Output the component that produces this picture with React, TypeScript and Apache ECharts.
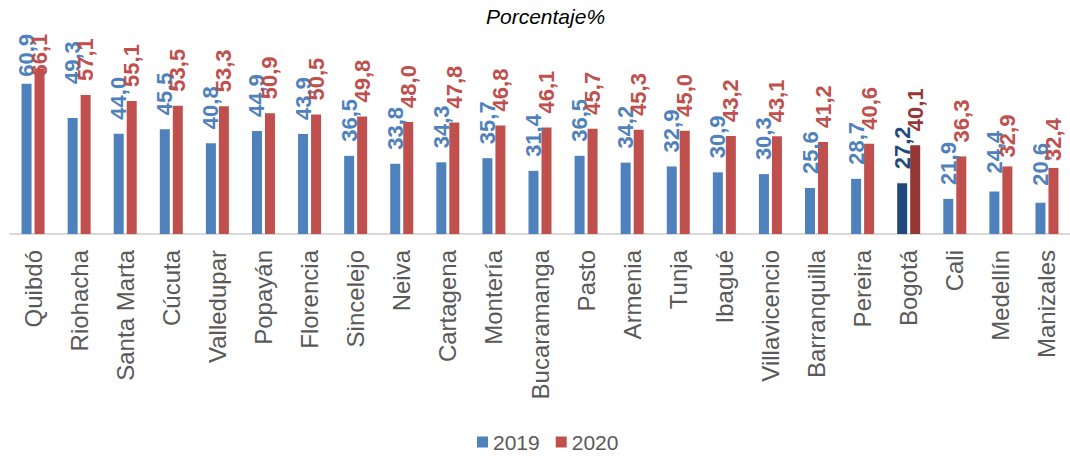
import React, { useEffect, useRef } from "react";
import * as echarts from "echarts";

const categories = [
  "Quibdó", "Riohacha", "Santa Marta", "Cúcuta", "Valledupar", "Popayán", "Florencia",
  "Sincelejo", "Neiva", "Cartagena", "Montería", "Bucaramanga", "Pasto", "Armenia",
  "Tunja", "Ibagué", "Villavicencio", "Barranquilla", "Pereira", "Bogotá", "Cali",
  "Medellín", "Manizales",
];
const values2019 = [60.9, 49.3, 44.0, 45.5, 40.8, 44.9, 43.9, 36.5, 33.8, 34.3, 35.7, 31.4, 36.5, 34.2, 32.9, 30.9, 30.3, 25.6, 28.7, 27.2, 21.9, 24.4, 20.6];
const values2020 = [66.1, 57.1, 55.1, 53.5, 53.3, 50.9, 50.5, 49.8, 48.0, 47.8, 46.8, 46.1, 45.7, 45.3, 45.0, 43.2, 43.1, 41.2, 40.6, 40.1, 36.3, 32.9, 32.4];
const seriesNames = ["2019", "2020"];
const highlightCity = "Bogotá";

const FONT = "'Liberation Sans', Arial, sans-serif";
const BLUE = "#4f81bd";
const RED = "#c0504d";
const DARK_BLUE = "#1f497d";
const DARK_RED = "#953735";

const labelDist2019: Record<string, number> = { "Quibdó": 7, "Riohacha": 34, "Medellín": 18, "Manizales": 17 };
const labelDist2020: Record<string, number> = { "Quibdó": -8, "Medellín": 9, "Manizales": 7 };

function buildData(values: number[], dark: string, dist: Record<string, number>) {
  return values.map((v, i) => {
    const c = categories[i];
    const isHL = c === highlightCity;
    const item: any = { value: v };
    const label: any = {};
    if (isHL) {
      item.itemStyle = { color: dark };
      label.color = dark;
    }
    if (dist[c] !== undefined) label.distance = dist[c];
    if (Object.keys(label).length) item.label = label;
    return item;
  });
}

export default function App() {
  const ref = useRef<HTMLDivElement>(null);
  useEffect(() => {
    if (!ref.current) return;
    const chart = echarts.init(ref.current, undefined, { renderer: "svg" });
    const labelBase = {
      show: true,
      position: "top",
      rotate: 90,
      align: "left",
      verticalAlign: "middle",
      distance: 14,
      fontFamily: FONT,
      fontSize: 22,
      fontWeight: "bold",
      formatter: (p: any) => Number(p.value).toFixed(1).replace(".", ","),
    };
    chart.setOption({
      animation: false,
      backgroundColor: "#ffffff",
      title: {
        text: "Porcentaje%",
        left: 481,
        top: 1,
        textStyle: { fontFamily: FONT, fontSize: 21, fontStyle: "italic", fontWeight: "normal", color: "#000000" },
      },
      legend: {
        data: seriesNames,
        left: 472,
        top: 425,
        itemWidth: 11,
        itemHeight: 11,
        itemGap: 16,
        icon: "rect",
        textStyle: { fontFamily: FONT, fontSize: 21, color: "#595959", lineHeight: 24 },
      },
      grid: { left: 10, width: 1068, top: 57, bottom: 222, containLabel: false },
      xAxis: {
        type: "category",
        data: categories,
        axisLine: { show: true, lineStyle: { color: "#d9d9d9", width: 2 } },
        axisTick: { show: false },
        axisLabel: {
          interval: 0,
          rotate: 90,
          margin: 16,
          fontFamily: FONT,
          fontSize: 24,
          color: "#595959",
        },
      },
      yAxis: {
        type: "value",
        min: 10,
        max: 70,
        startValue: 10,
        show: false,
        splitLine: { show: false },
      },
      series: [
        {
          name: seriesNames[0],
          type: "bar",
          barWidth: 10,
          barGap: "30%",
          clip: true,
          itemStyle: { color: BLUE },
          label: { ...labelBase, color: BLUE },
          data: buildData(values2019, DARK_BLUE, labelDist2019),
        },
        {
          name: seriesNames[1],
          type: "bar",
          barWidth: 10,
          barGap: "30%",
          clip: true,
          itemStyle: { color: RED },
          label: { ...labelBase, color: RED },
          data: buildData(values2020, DARK_RED, labelDist2020),
        },
      ],
    });
    return () => chart.dispose();
  }, []);
  return (
    <div
      ref={ref}
      style={{ position: "absolute", left: 0, top: 0, width: 1070, height: 456 }}
    />
  );
}
